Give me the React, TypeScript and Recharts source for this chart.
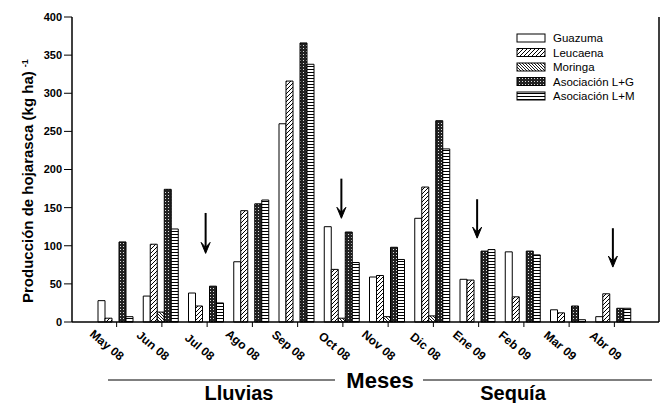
import {
  Bar,
  BarChart,
  Customized,
  ReferenceLine,
  XAxis,
  YAxis,
} from 'recharts';

const months = ['May 08', 'Jun 08', 'Jul 08', 'Ago 08', 'Sep 08', 'Oct 08', 'Nov 08', 'Dic 08', 'Ene 09', 'Feb 09', 'Mar 09', 'Abr 09'];
const guazuma = [28, 34, 38, 79, 260, 125, 59, 136, 56, 92, 16, 7];
const leucaena = [5, 102, 21, 146, 316, 69, 61, 177, 55, 33, 12, 37];
const moringa = [0, 13, 0, 0, 0, 5, 7, 8, 0, 0, 0, 0];
const asocLG = [105, 174, 47, 155, 366, 118, 98, 264, 93, 93, 21, 18];
const asocLM = [7, 122, 25, 160, 338, 78, 82, 227, 95, 88, 3, 18];

const seriesNames = ['Guazuma', 'Leucaena', 'Moringa', 'Asociación L+G', 'Asociación L+M'];
const seriesKeys = ['guazuma', 'leucaena', 'moringa', 'asocLG', 'asocLM'];
const seriesFills = ['#fff', 'url(#pLeu)', 'url(#pMor)', 'url(#pLG)', 'url(#pLM)'];

// arrows marking season changes
const arrowMonths = ['Jul 08', 'Oct 08', 'Ene 09', 'Abr 09'];
const arrowTop = [143, 188, 161, 123];
const arrowTip = [90, 136, 110, 72];

const yTicks = [0, 50, 100, 150, 200, 250, 300, 350, 400];

const data = months.map((month, i) => ({
  month,
  guazuma: guazuma[i],
  leucaena: leucaena[i],
  moringa: moringa[i],
  asocLG: asocLG[i],
  asocLM: asocLM[i],
}));

const font = '"Liberation Sans", Arial, sans-serif';

const XTick = (props: any) => {
  const { x, y, payload } = props;
  return (
    <text
      transform={`translate(${x + 3},${y + 32}) rotate(40)`}
      textAnchor="end"
      fontSize={12}
      fontWeight="bold"
      fontFamily={font}
      fill="#000"
    >
      {payload.value}
    </text>
  );
};

const Arrow = (props: any) => {
  const { x1, y1, y2 } = props;
  const x = x1 - 1.5;
  return (
    <g>
      <line x1={x} y1={y1} x2={x} y2={y2 - 6} stroke="#000" strokeWidth={2} />
      <path
        d={`M${x - 4.5},${y2 - 11} L${x},${y2} L${x + 4.5},${y2 - 11} L${x},${y2 - 6} Z`}
        fill="#000"
        stroke="#000"
        strokeWidth={1}
      />
    </g>
  );
};

const Annotations = () => (
  <g fontFamily={font} fill="#000">
    {/* right side of the frame */}
    <line x1={659} y1={17} x2={659} y2={322} stroke="#000" strokeWidth={1.5} />
    <text
      transform="translate(33,303) rotate(-90)"
      fontSize={15}
      fontWeight="bold"
    >
      Producción de hojarasca (kg ha)
      <tspan dx={4} dy={-5} fontSize={9}>-1</tspan>
    </text>
    <line x1={108} y1={380} x2={335} y2={380} stroke="#000" strokeWidth={1.2} />
    <line x1={423} y1={380} x2={652} y2={380} stroke="#000" strokeWidth={1.2} />
    <text x={380} y={388} textAnchor="middle" fontSize={22} fontWeight="bold">Meses</text>
    <text x={239} y={400} textAnchor="middle" fontSize={20} fontWeight="bold">Lluvias</text>
    <text x={513} y={400} textAnchor="middle" fontSize={20} fontWeight="bold">Sequía</text>
    {seriesNames.map((name, i) => (
      <g key={name}>
        <rect x={517} y={34 + i * 14.5} width={28} height={8} fill={seriesFills[i]} stroke="#000" />
        <text x={553} y={42 + i * 14.5} fontSize={11.5}>{name}</text>
      </g>
    ))}
  </g>
);

export default function App() {
  return (
    <div style={{ position: 'absolute', left: 0, top: 0, background: '#fff' }}>
      <BarChart
        width={661}
        height={403}
        data={data}
        margin={{ top: 17, right: 2, left: 0, bottom: 0 }}
        barCategoryGap={4}
        barGap={0}
      >
        <defs>
          <pattern id="pLeu" width={4} height={4} patternUnits="userSpaceOnUse">
            <rect width={4} height={4} fill="#fff" />
            <path d="M-1,1 L1,-1 M0,4 L4,0 M3,5 L5,3" stroke="#000" strokeWidth={1} />
          </pattern>
          <pattern id="pMor" width={3} height={3} patternUnits="userSpaceOnUse">
            <rect width={3} height={3} fill="#fff" />
            <path d="M-1,2 L1,4 M0,0 L3,3 M2,-1 L4,1" stroke="#000" strokeWidth={0.9} />
          </pattern>
          <pattern id="pLG" width={3} height={3} patternUnits="userSpaceOnUse">
            <rect width={3} height={3} fill="#222" />
            <rect x={0} y={0} width={1} height={1} fill="#ddd" />
          </pattern>
          <pattern id="pLM" width={4} height={3} patternUnits="userSpaceOnUse">
            <rect width={4} height={3} fill="#fff" />
            <rect x={0} y={0} width={4} height={1} fill="#000" />
          </pattern>
        </defs>
        <XAxis
          dataKey="month"
          height={81}
          padding={{ left: 22, right: 22 }}
          axisLine={{ stroke: '#000', strokeWidth: 1.5 }}
          tickLine={{ stroke: '#000' }}
          tickSize={5}
          interval={0}
          tick={<XTick />}
        />
        <XAxis
          xAxisId="top"
          orientation="top"
          dataKey="month"
          height={0}
          tick={false}
          tickLine={false}
          axisLine={{ stroke: '#000', strokeWidth: 1.5 }}
        />
        <YAxis
          width={72}
          domain={[0, 400]}
          ticks={yTicks}
          interval={0}
          tickSize={8}
          tickMargin={2}
          axisLine={{ stroke: '#000', strokeWidth: 1.5 }}
          tickLine={{ stroke: '#000' }}
          tick={{ fill: '#000', fontSize: 11, fontWeight: 'bold', fontFamily: font }}
        />
        {seriesKeys.map((key, i) => (
          <Bar
            key={key}
            dataKey={key}
            name={seriesNames[i]}
            fill={seriesFills[i]}
            stroke="#000"
            strokeWidth={1}
            isAnimationActive={false}
          />
        ))}
        {arrowMonths.map((m, i) => (
          <ReferenceLine
            key={m}
            segment={[
              { x: m, y: arrowTop[i] },
              { x: m, y: arrowTip[i] },
            ]}
            stroke="#000"
            shape={<Arrow />}
          />
        ))}
        <Customized component={Annotations} />
      </BarChart>
    </div>
  );
}
